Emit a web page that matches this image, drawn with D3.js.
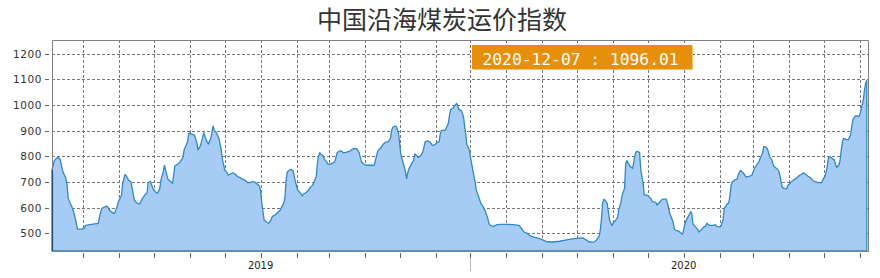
<!DOCTYPE html>
<html>
<head>
<meta charset="utf-8">
<script src="https://cdn.jsdelivr.net/npm/d3@7/dist/d3.min.js"></script>
<style>
  body { margin: 0; background: #fff; }
</style>
</head>
<body>
<script>
const title = "中国沿海煤炭运价指数";
const latestDate = "2020-12-07";
const yTicks = [500, 600, 700, 800, 900, 1000, 1100, 1200];
const yDomain = [431, 1253];
const halfYearMarks = ["2019-07-01"];

// [date, index value]
const series = [
  ["2018-07-05",747],["2018-07-07",783],["2018-07-08",788],["2018-07-10",796],["2018-07-12",788],["2018-07-14",747],["2018-07-15",734],["2018-07-17",714],
  ["2018-07-18",688],["2018-07-19",636],["2018-07-21",614],["2018-07-22",606],["2018-07-24",578],["2018-07-26",539],["2018-07-27",516],["2018-07-31",516],
  ["2018-08-02",521],["2018-08-03",531],["2018-08-08",535],["2018-08-14",539],["2018-08-15",565],["2018-08-17",597],["2018-08-21",606],["2018-08-22",604],
  ["2018-08-24",588],["2018-08-26",580],["2018-08-28",578],["2018-08-30",601],["2018-08-31",619],["2018-09-03",649],["2018-09-04",695],["2018-09-06",729],
  ["2018-09-07",724],["2018-09-09",708],["2018-09-11",701],["2018-09-13",656],["2018-09-14",630],["2018-09-16",619],["2018-09-18",614],["2018-09-19",617],
  ["2018-09-21",636],["2018-09-23",649],["2018-09-25",658],["2018-09-26",697],["2018-09-28",703],["2018-09-29",688],["2018-09-30",675],["2018-10-02",662],
  ["2018-10-04",656],["2018-10-06",675],["2018-10-07",708],["2018-10-09",740],["2018-10-10",765],["2018-10-11",747],["2018-10-13",711],["2018-10-15",703],
  ["2018-10-17",695],["2018-10-19",762],["2018-10-21",768],["2018-10-23",775],["2018-10-26",796],["2018-10-27",825],["2018-10-30",857],["2018-10-31",890],
  ["2018-11-02",887],["2018-11-05",882],["2018-11-07",851],["2018-11-08",825],["2018-11-10",840],["2018-11-11",857],["2018-11-13",892],["2018-11-15",864],
  ["2018-11-17",848],["2018-11-19",870],["2018-11-21",918],["2018-11-22",902],["2018-11-24",890],["2018-11-26",870],["2018-11-28",825],["2018-11-29",788],
  ["2018-12-01",747],["2018-12-03",736],["2018-12-04",726],["2018-12-06",731],["2018-12-08",736],["2018-12-10",731],["2018-12-12",721],["2018-12-14",718],
  ["2018-12-15",713],["2018-12-17",710],["2018-12-19",705],["2018-12-21",697],["2018-12-23",697],["2018-12-24",700],["2018-12-27",700],["2018-12-29",692],
  ["2018-12-31",684],["2019-01-01",666],["2019-01-02",617],["2019-01-04",552],["2019-01-06",544],["2019-01-08",539],["2019-01-10",552],["2019-01-11",565],
  ["2019-01-14",573],["2019-01-16",583],["2019-01-18",591],["2019-01-19",601],["2019-01-21",617],["2019-01-22",640],["2019-01-23",708],["2019-01-24",739],
  ["2019-01-26",747],["2019-01-27",749],["2019-01-29",743],["2019-01-30",721],["2019-02-01",684],["2019-02-02",669],["2019-02-04",658],["2019-02-06",646],
  ["2019-02-07",653],["2019-02-09",658],["2019-02-11",666],["2019-02-13",679],["2019-02-15",688],["2019-02-17",710],["2019-02-18",721],["2019-02-19",773],
  ["2019-02-20",801],["2019-02-21",814],["2019-02-22",809],["2019-02-24",801],["2019-02-25",788],["2019-02-27",778],["2019-02-28",770],
  ["2019-03-02",769],["2019-03-04",773],["2019-03-06",779],["2019-03-07",796],["2019-03-08",814],["2019-03-10",821],["2019-03-12",820],["2019-03-13",814],
  ["2019-03-15",814],["2019-03-17",817],["2019-03-19",820],["2019-03-21",827],["2019-03-23",831],["2019-03-25",829],["2019-03-27",814],["2019-03-28",796],
  ["2019-03-29",779],["2019-03-31",770],["2019-04-02",765],["2019-04-05",765],["2019-04-09",765],["2019-04-11",801],["2019-04-12",820],["2019-04-13",825],
  ["2019-04-15",835],["2019-04-17",848],["2019-04-19",856],["2019-04-21",856],["2019-04-23",870],["2019-04-24",900],["2019-04-25",913],["2019-04-27",918],
  ["2019-04-28",916],["2019-04-30",890],["2019-05-01",848],["2019-05-02",805],["2019-05-04",773],["2019-05-06",740],["2019-05-07",713],["2019-05-08",736],
  ["2019-05-09",752],["2019-05-11",770],["2019-05-13",783],["2019-05-14",809],["2019-05-16",801],["2019-05-17",796],["2019-05-19",801],["2019-05-21",818],
  ["2019-05-22",838],["2019-05-23",857],["2019-05-25",860],["2019-05-27",856],["2019-05-29",844],["2019-05-30",842],["2019-06-01",848],["2019-06-02",853],
  ["2019-06-04",856],["2019-06-05",887],["2019-06-06",901],["2019-06-09",901],["2019-06-10",908],["2019-06-12",929],["2019-06-13",961],["2019-06-14",983],
  ["2019-06-16",987],["2019-06-17",994],["2019-06-19",1006],["2019-06-20",999],["2019-06-21",983],["2019-06-23",978],["2019-06-24",968],["2019-06-25",955],
  ["2019-06-27",883],["2019-06-28",844],["2019-06-30",827],["2019-07-01",799],["2019-07-03",747],["2019-07-05",701],["2019-07-06",669],["2019-07-08",643],
  ["2019-07-10",617],["2019-07-12",604],["2019-07-13",594],["2019-07-14",584],["2019-07-16",558],["2019-07-17",539],["2019-07-18",531],["2019-07-21",526],
  ["2019-07-22",530],["2019-07-24",534],["2019-07-27",535],["2019-08-02",535],["2019-08-07",534],["2019-08-12",531],["2019-08-15",513],["2019-08-16",506],
  ["2019-08-19",500],["2019-08-21",491],["2019-08-24",486],["2019-08-29",480],["2019-08-31",477],["2019-09-05",467],["2019-09-10",466],["2019-09-16",469],
  ["2019-09-22",474],["2019-09-28",479],["2019-10-06",482],["2019-10-09",474],["2019-10-11",467],["2019-10-15",465],["2019-10-17",470],["2019-10-20",487],
  ["2019-10-21",510],["2019-10-22",552],["2019-10-23",617],["2019-10-24",632],["2019-10-25",630],["2019-10-27",617],["2019-10-29",552],["2019-10-31",530],
  ["2019-11-01",539],["2019-11-03",549],["2019-11-05",562],["2019-11-06",591],["2019-11-08",623],["2019-11-09",649],["2019-11-11",675],["2019-11-12",773],
  ["2019-11-13",783],["2019-11-15",766],["2019-11-16",760],["2019-11-18",753],["2019-11-19",779],["2019-11-20",805],["2019-11-21",818],["2019-11-23",818],
  ["2019-11-24",814],["2019-11-25",747],["2019-11-27",695],["2019-11-28",649],["2019-11-30",649],["2019-12-02",643],["2019-12-04",633],["2019-12-05",623],
  ["2019-12-08",620],["2019-12-09",610],["2019-12-11",620],["2019-12-13",630],["2019-12-14",633],["2019-12-17",633],["2019-12-18",617],["2019-12-20",578],
  ["2019-12-21",565],["2019-12-23",542],["2019-12-24",516],["2019-12-26",510],["2019-12-28",508],["2019-12-29",503],["2019-12-31",497],["2020-01-01",513],
  ["2020-01-02",536],["2020-01-04",558],["2020-01-06",575],["2020-01-07",584],["2020-01-08",578],["2020-01-09",536],["2020-01-11",526],["2020-01-13",516],
  ["2020-01-14",505],["2020-01-16",513],["2020-01-18",523],["2020-01-20",529],["2020-01-21",539],["2020-01-23",531],["2020-01-24",531],["2020-01-27",531],
  ["2020-01-28",534],["2020-01-30",526],["2020-02-01",525],["2020-02-02",526],["2020-02-04",552],["2020-02-05",597],["2020-02-07",610],["2020-02-09",620],
  ["2020-02-10",649],["2020-02-11",688],["2020-02-12",701],["2020-02-14",708],["2020-02-16",710],["2020-02-17",727],["2020-02-19",745],["2020-02-20",742],
  ["2020-02-22",731],["2020-02-24",718],["2020-02-25",721],["2020-02-27",723],["2020-02-29",727],["2020-03-01",740],["2020-03-02",753],["2020-03-04",766],
  ["2020-03-06",779],["2020-03-07",792],["2020-03-09",812],["2020-03-10",838],["2020-03-11",838],["2020-03-13",831],["2020-03-14",818],["2020-03-15",801],
  ["2020-03-17",786],["2020-03-18",770],["2020-03-19",760],["2020-03-21",753],["2020-03-23",744],["2020-03-24",727],["2020-03-25",701],["2020-03-26",679],
  ["2020-03-28",674],["2020-03-30",673],["2020-03-31",688],["2020-04-02",695],["2020-04-03",701],["2020-04-05",708],["2020-04-07",714],["2020-04-09",721],
  ["2020-04-10",726],["2020-04-12",730],["2020-04-13",736],["2020-04-15",731],["2020-04-17",723],["2020-04-19",718],["2020-04-21",708],["2020-04-22",703],
  ["2020-04-24",700],["2020-04-26",697],["2020-04-29",697],["2020-04-30",708],["2020-05-02",723],["2020-05-03",740],["2020-05-04",766],["2020-05-05",796],
  ["2020-05-06",799],["2020-05-08",792],["2020-05-10",786],["2020-05-11",770],["2020-05-12",757],["2020-05-14",766],["2020-05-15",786],["2020-05-16",825],
  ["2020-05-17",857],["2020-05-18",870],["2020-05-20",866],["2020-05-22",864],["2020-05-24",883],["2020-05-25",916],["2020-05-26",942],["2020-05-28",957],
  ["2020-05-29",957],["2020-05-31",955],["2020-06-01",961],["2020-06-02",981],["2020-06-04",1020],["2020-06-05",1058],["2020-06-06",1084],["2020-06-07",1096.01]
];

const width = 880;
const height = 278;
const plotLeft = 52, plotRight = 868, plotTop = 40, plotBottom = 251;

const parse = d3.timeParse("%Y-%m-%d");
const data = series.map(d => [parse(d[0]), d[1]]);

const svg = d3.select("body").append("svg")
    .attr("width", width)
    .attr("height", height)
    .style("font-family", "'DejaVu Sans', sans-serif");

const x = d3.scaleTime()
    .domain(d3.extent(data, d => d[0]))
    .range([plotLeft, 866.8]);

const y = d3.scaleLinear()
    .domain(yDomain)
    .range([plotBottom, plotTop]);

const months = x.ticks(d3.timeMonth.every(1));

// grid
svg.append("g").selectAll("line.vgrid")
    .data(months)
    .enter().append("line")
    .attr("class", "vgrid")
    .attr("x1", d => Math.round(x(d)) + 0.5)
    .attr("x2", d => Math.round(x(d)) + 0.5)
    .attr("y1", plotTop)
    .attr("y2", plotBottom)
    .attr("stroke", "#777")
    .attr("stroke-dasharray", "3,2");

svg.append("g").selectAll("line.hgrid")
    .data(yTicks)
    .enter().append("line")
    .attr("class", "hgrid")
    .attr("x1", plotLeft)
    .attr("x2", plotRight)
    .attr("y1", d => Math.round(y(d)) + 0.5)
    .attr("y2", d => Math.round(y(d)) + 0.5)
    .attr("stroke", "#777")
    .attr("stroke-dasharray", "3,2");

// area
const area = d3.area()
    .x(d => x(d[0]))
    .y0(plotBottom)
    .y1(d => y(d[1]));

svg.append("path")
    .datum(data)
    .attr("d", area)
    .attr("fill", "#a6cbf4")
    .attr("stroke", "#2f89c4")
    .attr("stroke-width", 1.3)
    .attr("stroke-linejoin", "round");

// frame
svg.append("path")
    .attr("d", `M${plotLeft + 0.5},${plotBottom} V${plotTop + 0.5} H${plotRight + 0.5} V${plotBottom}`)
    .attr("fill", "none")
    .attr("stroke", "#808080");
svg.append("line")
    .attr("x1", plotLeft).attr("x2", plotRight + 1)
    .attr("y1", plotBottom + 0.5).attr("y2", plotBottom + 0.5)
    .attr("stroke", "#808080");
svg.append("line")
    .attr("x1", plotLeft + 0.5).attr("x2", plotLeft + 0.5)
    .attr("y1", y(data[0][1])).attr("y2", plotBottom)
    .attr("stroke", "#1d4e70")
    .attr("stroke-width", 1.2);

// y axis
svg.append("g").selectAll("line.ytick")
    .data(yTicks)
    .enter().append("line")
    .attr("x1", 45).attr("x2", 49)
    .attr("y1", d => Math.round(y(d)) + 0.5)
    .attr("y2", d => Math.round(y(d)) + 0.5)
    .attr("stroke", "#666");

svg.append("g").selectAll("text.ylab")
    .data(yTicks)
    .enter().append("text")
    .attr("x", 42)
    .attr("y", d => y(d) + 4)
    .attr("text-anchor", "end")
    .attr("font-size", 10.5)
    .attr("letter-spacing", 0.6)
    .attr("fill", "#333")
    .text(d => d);

// x axis
svg.append("g").selectAll("line.xtick")
    .data(months)
    .enter().append("line")
    .attr("x1", d => Math.round(x(d)) + 0.5)
    .attr("x2", d => Math.round(x(d)) + 0.5)
    .attr("y1", 253)
    .attr("y2", 258)
    .attr("stroke", "#666");

svg.append("g").selectAll("line.halfyear")
    .data(halfYearMarks.map(parse))
    .enter().append("line")
    .attr("x1", d => Math.round(x(d)) + 0.5)
    .attr("x2", d => Math.round(x(d)) + 0.5)
    .attr("y1", 258)
    .attr("y2", 271)
    .attr("stroke", "#bbb");

svg.append("g").selectAll("text.xlab")
    .data(months.filter(d => d.getMonth() === 0))
    .enter().append("text")
    .attr("x", d => x(d))
    .attr("y", 268.5)
    .attr("text-anchor", "middle")
    .attr("font-size", 10)
    .attr("fill", "#222")
    .text(d3.timeFormat("%Y"));

// title
svg.append("text")
    .attr("x", 442)
    .attr("y", 29)
    .attr("text-anchor", "middle")
    .style("font-family", "'Noto Sans CJK SC', sans-serif")
    .attr("font-size", 25)
    .attr("fill", "#333")
    .text(title);

// latest value label
const last = data[data.length - 1];
svg.append("rect")
    .attr("x", 472).attr("y", 45)
    .attr("width", 220).attr("height", 24)
    .attr("fill", "#e88f0a");
svg.append("line")
    .attr("x1", 692.5).attr("x2", 692.5)
    .attr("y1", 46).attr("y2", 70)
    .attr("stroke", "#f5c27a");
svg.append("line")
    .attr("x1", 473).attr("x2", 693)
    .attr("y1", 69.5).attr("y2", 69.5)
    .attr("stroke", "#f5c27a");
svg.append("text")
    .attr("x", 482.5)
    .attr("y", 65)
    .style("font-family", "'DejaVu Sans Mono', monospace")
    .attr("font-size", 16.3)
    .attr("fill", "#fff")
    .text(latestDate + " : " + d3.format(".2f")(last[1]));
</script>
</body>
</html>
